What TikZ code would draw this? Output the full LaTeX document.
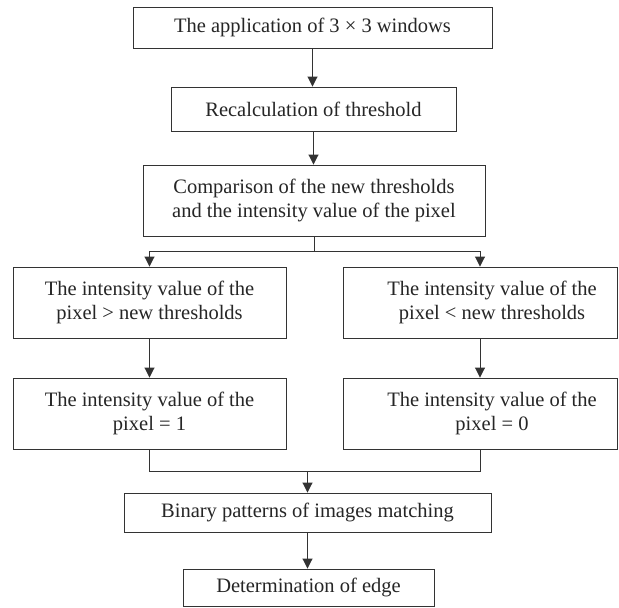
\documentclass[tikz,border=0pt]{standalone}
\usepackage{fontspec}
\setmainfont{Liberation Serif}
\usetikzlibrary{arrows.meta,calc}
\begin{document}
\begin{tikzpicture}[x=1pt,y=-1pt,
  txt/.style={inner sep=0pt,align=center,font=\fontsize{20.5}{24}\selectfont,text=black!85},
  box/.style={txt,draw=black!80,line width=0.9pt,rectangle},
  conn/.style={draw=black!80,line width=0.9pt},
  arr/.style={conn,-{Triangle[width=10pt,length=10pt]}}]
\useasboundingbox (0,0) rectangle (619,608);
\fill[white] (0,0) rectangle (619,608);
\node[box,minimum width=359pt,minimum height=41pt] (b1) at (312.5,27.5) {The application of 3 × 3 windows};
\node[box,minimum width=285pt,minimum height=44pt] (b2) at (313.5,109) {Recalculation of threshold};
\node[box,minimum width=342pt,minimum height=71pt] (b3) at (314,200.5) {Comparison of the new thresholds\\and the intensity value of the pixel};
\node[box,minimum width=273pt,minimum height=71pt] (b4L) at (149.5,302.5) {The intensity value of the\\pixel > new thresholds};
\node[box,minimum width=274pt,minimum height=71pt] (b4R) at (480,302.5) {};
\node[txt] (t4R) at ($(b4R.center)+(12,0)$) {The intensity value of the\\pixel < new thresholds};
\node[box,minimum width=273pt,minimum height=71pt] (b5L) at (149.5,413.5) {The intensity value of the\\pixel = 1};
\node[box,minimum width=274pt,minimum height=71pt] (b5R) at (480,413.5) {};
\node[txt] (t5R) at ($(b5R.center)+(12,0)$) {The intensity value of the\\pixel = 0};
\node[box,minimum width=367pt,minimum height=39pt] (b6) at (307.5,512.5) {Binary patterns of images matching};
\node[box,minimum width=251pt,minimum height=37pt] (b7) at (308.5,587.5) {Determination of edge};
\coordinate (s) at (314,251);
\coordinate (j) at (309,471);
\draw[arr] (b1.south) -- (b1.south |- b2.north);
\draw[arr] (b2.south) -- (b2.south |- b3.north);
\draw[conn] (b3.south) -- (b3.south |- s);
\draw[conn] (b4L.north |- s) -- (b4R.north |- s);
\draw[arr] (b4L.north |- s) -- (b4L.north);
\draw[arr] (b4R.north |- s) -- (b4R.north);
\draw[arr] (b4L.south) -- (b5L.north);
\draw[arr] (b4R.south) -- (b5R.north);
\draw[conn] (b5L.south) -- (b5L.south |- j) -- (b5R.south |- j) -- (b5R.south);
\draw[arr] (b6.north |- j) -- (b6.north);
\draw[arr] (b6.south) -- (b6.south |- b7.north);
\end{tikzpicture}
\end{document}
